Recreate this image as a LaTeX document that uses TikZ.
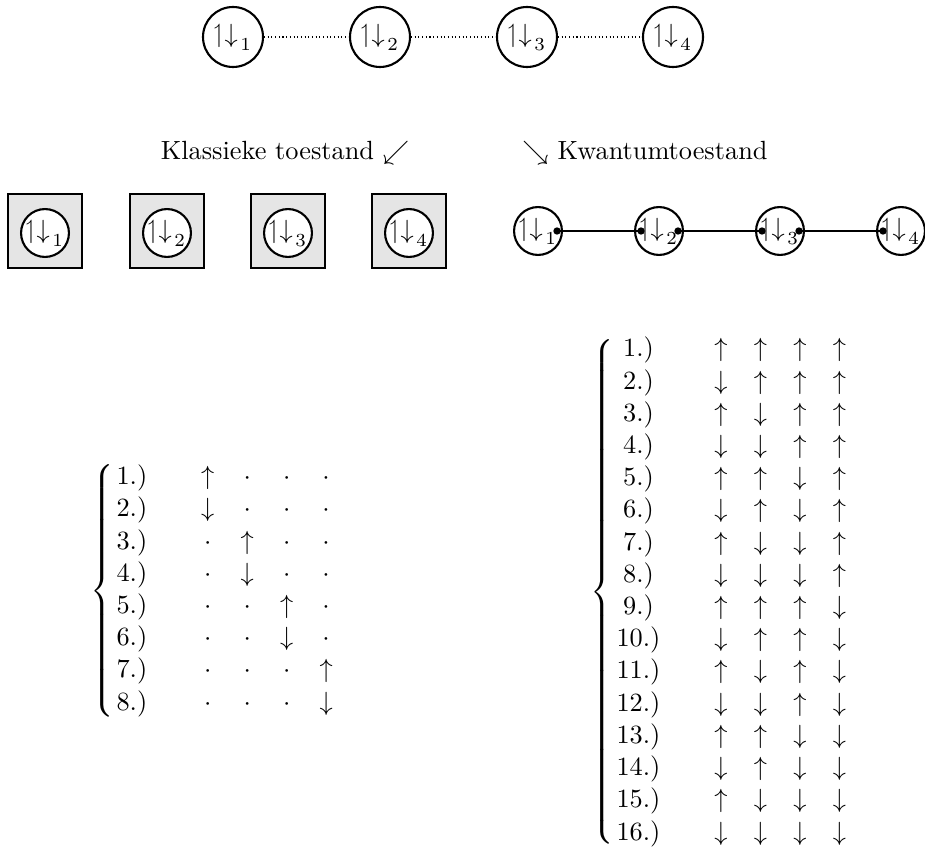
\documentclass[tikz,border=0pt]{standalone}
\usepackage{amssymb}
\usetikzlibrary{calc}
\newcommand{\spin}[1]{$\upharpoonleft\downarrow_{\kern1pt\lower1.6pt\hbox{$\scriptstyle #1$}}$}
\renewcommand{\arraystretch}{1.02}
\begin{document}
\begin{tikzpicture}[x=0.38pt,y=-0.38pt,
  site/.style={circle,draw,thick,inner sep=0pt,minimum size=22.8pt,fill=white},
  smallsite/.style={circle,draw,thick,inner sep=0pt,minimum size=18.2pt,fill=white},
  cell/.style={draw,thick,fill=gray!20,minimum size=28.1pt,inner sep=0pt},
  bond/.style={densely dotted},
  link/.style={line width=0.5pt},
  junction/.style={circle,fill=black,inner sep=0pt,minimum size=2.8pt},
  caption/.style={anchor=base,inner sep=0pt},
  states/.style={anchor=west,inner sep=0pt}]
\useasboundingbox (0,0) rectangle (925,847);

% chain of four sites
\foreach \i/\x in {1/233,2/380,3/527,4/673}
  \node[site] (s\i) at (\x,37) {\spin{\i}};
\foreach \i/\j in {1/2,2/3,3/4}
  \draw[bond] (s\i) -- (s\j);

% captions
\node[caption] (kl) at (285,160) {Klassieke toestand $\swarrow$};
\node[caption] (kw) at (645,160) {$\searrow$ Kwantumtoestand};

% classical state: isolated sites in boxes
\foreach \i/\x in {1/45,2/167,3/288,4/409}{
  \node[cell] (c\i) at (\x,231) {};
  \node[smallsite] (cs\i) at (\x,233) {\spin{\i}};
}

% quantum state: coupled sites
\foreach \i/\x in {1/538,2/659,3/780,4/901}
  \node[smallsite] (q\i) at (\x,231) {\spin{\i}};
\foreach \i in {1,2,3}
  \coordinate (q\i e) at ($(q\i.center)+(19,0)$);
\foreach \i in {2,3,4}
  \coordinate (q\i w) at ($(q\i.center)+(-18,0)$);
\foreach \i/\j in {1/2,2/3,3/4}
  \draw[link] (q\i e) -- (q\j w);
\foreach \p in {q1e,q2w,q2e,q3w,q3e,q4w}
  \node[junction] at (\p) {};

% classical basis states
\node[states] (cls) at (90,591) {$\left\{\begin{array}{@{\hspace{1pt}}c@{\hspace{20.5pt}}c@{\hspace{10pt}}c@{\hspace{10pt}}c@{\hspace{10pt}}c@{}}
1.) & \uparrow & \cdot & \cdot & \cdot \\
2.) & \downarrow & \cdot & \cdot & \cdot \\
3.) & \cdot & \uparrow & \cdot & \cdot \\
4.) & \cdot & \downarrow & \cdot & \cdot \\
5.) & \cdot & \cdot & \uparrow & \cdot \\
6.) & \cdot & \cdot & \downarrow & \cdot \\
7.) & \cdot & \cdot & \cdot & \uparrow \\
8.) & \cdot & \cdot & \cdot & \downarrow
\end{array}\right.$};

% quantum basis states
\node[states] (qst) at (590,592) {$\left\{\begin{array}{@{\hspace{1pt}}c@{\hspace{20.5pt}}c@{\hspace{10pt}}c@{\hspace{10pt}}c@{\hspace{10pt}}c@{}}
1.) & \uparrow & \uparrow & \uparrow & \uparrow \\
2.) & \downarrow & \uparrow & \uparrow & \uparrow \\
3.) & \uparrow & \downarrow & \uparrow & \uparrow \\
4.) & \downarrow & \downarrow & \uparrow & \uparrow \\
5.) & \uparrow & \uparrow & \downarrow & \uparrow \\
6.) & \downarrow & \uparrow & \downarrow & \uparrow \\
7.) & \uparrow & \downarrow & \downarrow & \uparrow \\
8.) & \downarrow & \downarrow & \downarrow & \uparrow \\
9.) & \uparrow & \uparrow & \uparrow & \downarrow \\
10.) & \downarrow & \uparrow & \uparrow & \downarrow \\
11.) & \uparrow & \downarrow & \uparrow & \downarrow \\
12.) & \downarrow & \downarrow & \uparrow & \downarrow \\
13.) & \uparrow & \uparrow & \downarrow & \downarrow \\
14.) & \downarrow & \uparrow & \downarrow & \downarrow \\
15.) & \uparrow & \downarrow & \downarrow & \downarrow \\
16.) & \downarrow & \downarrow & \downarrow & \downarrow
\end{array}\right.$};
\end{tikzpicture}
\end{document}
